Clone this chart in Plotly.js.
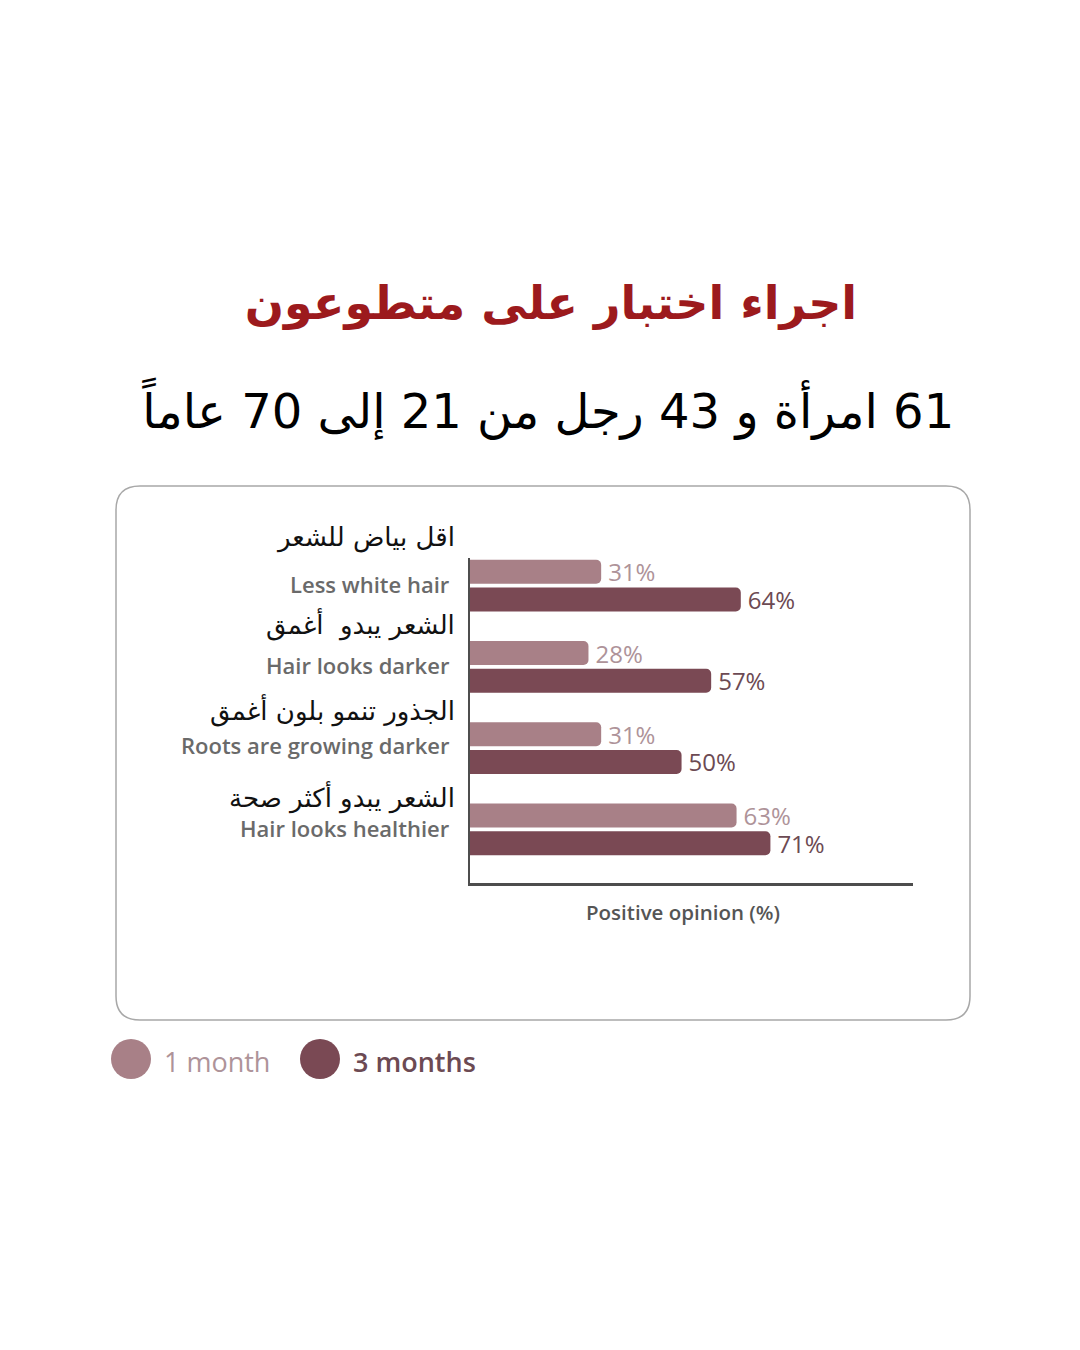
<!DOCTYPE html>
<html><head><meta charset="utf-8">
<script src="https://cdn.plot.ly/plotly-3.0.1.min.js"></script>
<style>html,body{margin:0;padding:0;background:#fff}</style>
</head><body><div id="chart" style="width:1080px;height:1350px"></div>
<script>
// ---- data ----
const categoryIndex = [0, 1, 2, 3];
const categoriesEn = ['Less white hair', 'Hair looks darker', 'Roots are growing darker', 'Hair looks healthier'];
const categoriesAr = ['اقل بياض للشعر', 'الشعر يبدو  أغمق', 'الجذور تنمو بلون أغمق', 'الشعر يبدو أكثر صحة'];
const seriesNames = ['1 month', '3 months'];
const oneMonth = [31, 28, 31, 63];
const threeMonths = [64, 57, 50, 71];
const titleText = 'اجراء اختبار على متطوعون';
const subtitleText = '61 امرأة و 43 رجل من 21 إلى 70 عاماً';
const xAxisTitle = 'Positive opinion (%)';

// ---- layout geometry (pixels) ----
const W = 1080, H = 1350;
const L = 470, R = 913, T = 558, B = 883;
const fx = x => (x - L) / (R - L);
const fy = y => (B - y) / (B - T);
const arShift = [48, 43, 38, 32];
const enShift = [2, 2, 3, 1];
const RLM = '\u200F';

const lightCol = '#a88087';
const darkCol = '#7a4954';
const lightTxt = '#ae9399';
const darkTxt = '#6c4a53';
const arFont = 'DejaVu Sans, Noto Sans, sans-serif';
const enFont = 'Open Sans, Lato, sans-serif';

function roundRect(x0, y0, x1, y1, r) {
  const X = fx, Y = fy;
  return `M ${X(x0 + r)} ${Y(y0)} L ${X(x1 - r)} ${Y(y0)} Q ${X(x1)} ${Y(y0)} ${X(x1)} ${Y(y0 + r)} ` +
    `L ${X(x1)} ${Y(y1 - r)} Q ${X(x1)} ${Y(y1)} ${X(x1 - r)} ${Y(y1)} ` +
    `L ${X(x0 + r)} ${Y(y1)} Q ${X(x0)} ${Y(y1)} ${X(x0)} ${Y(y1 - r)} ` +
    `L ${X(x0)} ${Y(y0 + r)} Q ${X(x0)} ${Y(y0)} ${X(x0 + r)} ${Y(y0)} Z`;
}

const traces = [
  {
    type: 'bar', orientation: 'h', name: seriesNames[0],
    x: oneMonth, y: categoryIndex,
    marker: { color: lightCol, cornerradius: 5 },
    text: oneMonth.map(v => '\u2009' + v + '%'), textposition: 'outside',
    textfont: { family: enFont, size: 24, color: lightTxt },
    constraintext: 'none', cliponaxis: false, hoverinfo: 'skip'
  },
  {
    type: 'bar', orientation: 'h', name: seriesNames[1],
    x: threeMonths, y: categoryIndex,
    marker: { color: darkCol, cornerradius: 5 },
    text: threeMonths.map(v => '\u2009' + v + '%'), textposition: 'outside',
    textfont: { family: enFont, size: 24, color: darkTxt },
    constraintext: 'none', cliponaxis: false, hoverinfo: 'skip'
  }
];

const annotations = [];
categoryIndex.forEach((c, i) => {
  annotations.push({
    xref: 'paper', yref: 'y', x: fx(457), y: c, yshift: arShift[i],
    text: RLM + categoriesAr[i], showarrow: false, xanchor: 'right', yanchor: 'middle',
    font: { family: arFont, size: 26, color: '#111' }
  });
  annotations.push({
    xref: 'paper', yref: 'y', x: fx(452), y: c, yshift: enShift[i],
    text: categoriesEn[i], showarrow: false, xanchor: 'right', yanchor: 'middle',
    font: { family: enFont, size: 22, color: '#6a6a6a', weight: 600 }
  });
});
annotations.push({
  xref: 'paper', yref: 'paper', x: fx(683), y: fy(912), text: xAxisTitle,
  showarrow: false, xanchor: 'center', yanchor: 'middle',
  font: { family: enFont, size: 20.5, color: '#555', weight: 600 }
});
annotations.push({
  xref: 'paper', yref: 'paper', x: fx(548), y: fy(408), text: RLM + subtitleText,
  showarrow: false, xanchor: 'center', yanchor: 'middle',
  font: { family: arFont, size: 48, color: '#000' }
});
annotations.push({
  xref: 'paper', yref: 'paper', x: fx(162), y: fy(1061), text: seriesNames[0],
  showarrow: false, xanchor: 'left', yanchor: 'middle',
  font: { family: enFont, size: 27, color: lightTxt }
});
annotations.push({
  xref: 'paper', yref: 'paper', x: fx(351), y: fy(1061), text: seriesNames[1],
  showarrow: false, xanchor: 'left', yanchor: 'middle',
  font: { family: enFont, size: 27, color: darkTxt, weight: 600 }
});

const shapes = [
  { type: 'path', xref: 'paper', yref: 'paper', layer: 'below',
    path: roundRect(116, 486, 970, 1020, 24), line: { color: '#a8a8a8', width: 1.5 }, fillcolor: 'rgba(0,0,0,0)' },
  { type: 'circle', xref: 'paper', yref: 'paper',
    x0: fx(111), x1: fx(151), y0: fy(1039), y1: fy(1079), fillcolor: lightCol, line: { width: 0 } },
  { type: 'circle', xref: 'paper', yref: 'paper',
    x0: fx(300), x1: fx(340), y0: fy(1039), y1: fy(1079), fillcolor: darkCol, line: { width: 0 } }
];

const layout = {
  width: W, height: H,
  margin: { l: L, r: W - R, t: T, b: H - B, pad: 0 },
  paper_bgcolor: '#fff', plot_bgcolor: '#fff',
  showlegend: false,
  barmode: 'group', bargap: 0.32, bargroupgap: 0.13,
  title: {
    text: titleText, x: 551 / W, xanchor: 'center',
    y: 1 - 303 / H, yanchor: 'middle',
    font: { family: arFont, size: 46, color: '#9c1a1d', weight: 700 }
  },
  xaxis: { range: [0, 104.7], showticklabels: false, showgrid: false, zeroline: false,
    showline: true, linecolor: '#4d4d4d', linewidth: 2.5, ticks: '', fixedrange: true },
  yaxis: { range: [3.66, -0.34], showticklabels: false, showgrid: false, zeroline: false,
    showline: true, linecolor: '#4d4d4d', linewidth: 2.5, ticks: '', fixedrange: true },
  annotations, shapes
};

Plotly.newPlot('chart', traces, layout, { displayModeBar: false, staticPlot: true });
</script>
</body></html>
